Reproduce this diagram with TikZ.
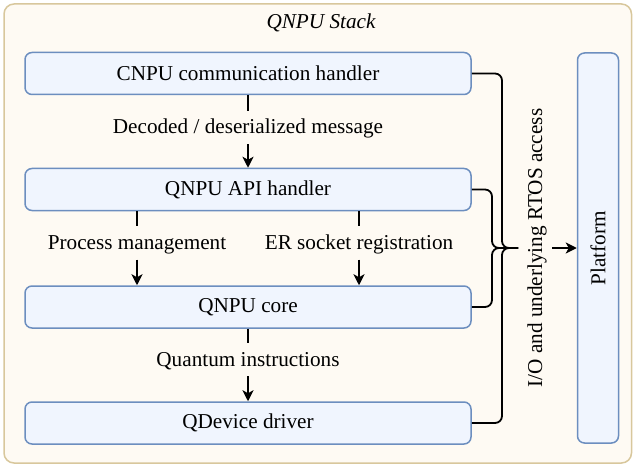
\documentclass[tikz,border=0pt]{standalone}
\usepackage{fontspec}
\setmainfont{Liberation Serif}
\usetikzlibrary{arrows.meta}
\definecolor{outerfill}{HTML}{FEFAF3}
\definecolor{outerdraw}{HTML}{D8C79C}
\definecolor{boxfill}{HTML}{F0F5FE}
\definecolor{boxdraw}{HTML}{6C8EBF}
\begin{document}
\begin{tikzpicture}[x=1pt,y=-1pt,
  font=\fontsize{21.2}{25}\selectfont,
  block/.style={draw=boxdraw, fill=boxfill, line width=1.5pt, rounded corners=7pt,
    minimum width=446pt, minimum height=42pt, inner sep=0pt},
  lbl/.style={inner xsep=2pt, inner ysep=7pt, text height=16pt, text depth=3pt},
  conn/.style={line width=1.8pt, black},
  arr/.style={conn, -{Stealth[length=11pt,width=11pt,inset=3pt]}}]
\useasboundingbox (0,0) rectangle (634,465);
\draw[draw=outerdraw, fill=outerfill, line width=1.5pt, rounded corners=10pt] (4,4) rectangle (631.5,463);
\node[font=\fontsize{21.2}{25}\selectfont\itshape] (title) at (321,23) {QNPU Stack};
\node[block] (cnpu) at (248,73.5) {CNPU communication handler};
\node[block] (api) at (248,189.5) {QNPU API handler};
\node[block] (core) at (248,307) {QNPU core};
\node[block] (drv) at (248,423) {QDevice driver};
\node[block, minimum width=41pt, minimum height=390pt] (plat) at (598,248) {};
\node[rotate=90] (plattext) at (plat.center) {Platform};
\node[lbl] (dec) at (248,127.5) {Decoded / deserialized message};
\draw[conn] (cnpu.south) -- (dec.north);
\draw[arr] (dec.south) -- (api.north);
\node[lbl] (pm) at (137,243) {Process management};
\draw[conn] (api.south -| pm) -- (pm.north);
\draw[arr] (pm.south) -- (core.north -| pm);
\node[lbl] (er) at (359,243) {ER socket registration};
\draw[conn] (api.south -| er) -- (er.north);
\draw[arr] (er.south) -- (core.north -| er);
\node[lbl] (qi) at (248,359.5) {Quantum instructions};
\draw[conn] (core.south) -- (qi.north);
\draw[arr] (qi.south) -- (drv.north);
\coordinate (tip) at (518,248);
\draw[conn, rounded corners=7pt] (cnpu.east) -- (502,73.5) -- (502,248) -- (tip);
\draw[conn, rounded corners=7pt] (drv.east) -- (502,423) -- (502,248) -- (tip);
\draw[conn, rounded corners=7pt] (api.east) -- (492,189.5) -- (492,248) -- (tip);
\draw[conn, rounded corners=7pt] (core.east) -- (492,307) -- (492,248) -- (tip);
\node[rotate=90] (io) at (537,248) {I/O and underlying RTOS access};
\coordinate (astart) at (552,248);
\draw[arr] (astart) -- (plat.west);
\end{tikzpicture}
\end{document}
